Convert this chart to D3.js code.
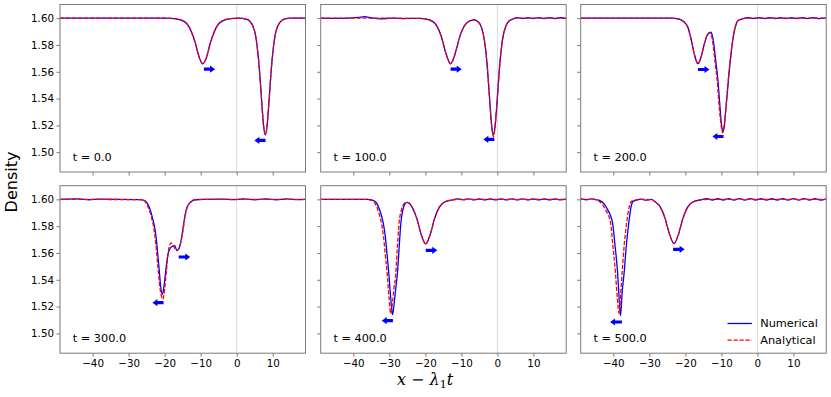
<!DOCTYPE html>
<html>
<head>
<meta charset="utf-8">
<script src="https://cdn.jsdelivr.net/npm/d3@7"></script>
<style>
  body { margin: 0; background: #fff; }
  text { font-family: "DejaVu Sans", sans-serif; }
</style>
</head>
<body>
<div id="chart"></div>
<script>
// snapshot times, one panel each
var times = [0, 100, 200, 300, 400, 500];

var xTicks = [-40, -30, -20, -10, 0, 10];
var yTicks = [1.50, 1.52, 1.54, 1.56, 1.58, 1.60];

// density profiles, [x - lambda1 t, density]
var numT0 = [[-49.1,1.6],[-20,1.6],[-17.2,1.5997],[-14.6,1.5976],[-13.3,1.5939],[-12.0,1.5857],[-11.3,1.5797],[-10.7,1.5733],[-9.4,1.566],[-8.1,1.5733],[-7.5,1.5797],[-6.8,1.5857],[-5.5,1.5939],[-4.2,1.5976],[-1.6,1.5997],[0.5,1.6],[2.85,1.5991],[4.55,1.5938],[5.4,1.5843],[6.25,1.5635],[6.68,1.548],[7.1,1.5316],[7.53,1.5182],[7.95,1.513],[8.38,1.5182],[8.8,1.5316],[9.23,1.548],[9.65,1.5635],[10.5,1.5843],[11.35,1.5938],[13.05,1.5991],[15,1.6],[19.2,1.6]];
var anaT0 = [[-49.1,1.6],[-20,1.6],[-17.2,1.5997],[-14.6,1.5976],[-13.3,1.5939],[-12.0,1.5857],[-11.3,1.5797],[-10.7,1.5733],[-9.4,1.566],[-8.1,1.5733],[-7.5,1.5797],[-6.8,1.5857],[-5.5,1.5939],[-4.2,1.5976],[-1.6,1.5997],[0.5,1.6],[2.85,1.5991],[4.55,1.5938],[5.4,1.5843],[6.25,1.5635],[6.68,1.548],[7.1,1.5316],[7.53,1.5182],[7.95,1.513],[8.38,1.5182],[8.8,1.5316],[9.23,1.548],[9.65,1.5635],[10.5,1.5843],[11.35,1.5938],[13.05,1.5991],[15,1.6],[19.2,1.6]];

var numT100 = [[-49.1,1.6],[-45,1.5998],[-41,1.6001],[-38.5,1.6006],[-36.8,1.6011],[-35,1.6003],[-32.6,1.5995],[-29,1.6],[-26,1.5997],[-22,1.5999],[-20.5,1.5997],[-18,1.5976],[-16.75,1.5939],[-15.5,1.5857],[-14.9,1.5797],[-14.25,1.5733],[-13,1.566],[-11.75,1.5733],[-11.1,1.5797],[-10.5,1.5857],[-9.25,1.5939],[-8,1.5975],[-6.5,1.5987],[-5.35,1.5974],[-4.5,1.5937],[-3.65,1.5843],[-2.8,1.5635],[-2.38,1.548],[-1.95,1.5316],[-1.53,1.5185],[-1.1,1.513],[-0.68,1.5185],[-0.25,1.5316],[0.18,1.548],[0.6,1.5635],[1.45,1.5843],[2.3,1.5938],[3.15,1.5977],[4.0,1.5991],[5.5,1.6004],[7,1.5997],[8.5,1.6004],[10,1.5997],[11.5,1.6004],[13,1.5997],[14.5,1.6003],[16,1.5997],[17.5,1.6003],[19.2,1.5998]];
var anaT100 = [[-49.1,1.6],[-22,1.5999],[-20.5,1.5997],[-18,1.5976],[-16.75,1.5939],[-15.5,1.5857],[-14.9,1.5797],[-14.25,1.5733],[-13,1.566],[-11.75,1.5733],[-11.1,1.5797],[-10.5,1.5857],[-9.25,1.5939],[-8,1.5975],[-6.5,1.5987],[-5.35,1.5974],[-4.5,1.5937],[-3.65,1.5843],[-2.8,1.5635],[-2.38,1.548],[-1.95,1.5316],[-1.53,1.518],[-1.1,1.5115],[-0.68,1.518],[-0.25,1.5316],[0.18,1.548],[0.6,1.5635],[1.45,1.5843],[2.3,1.5938],[3.15,1.5977],[4.0,1.5991],[6,1.6],[19.2,1.6]];

var numT200 = [[-49.1,1.6],[-24,1.6],[-22,1.5995],[-20.5,1.5975],[-19.2,1.5925],[-18.3,1.583],[-17.3,1.571],[-16.5,1.566],[-15.7,1.5705],[-14.8,1.58],[-13.9,1.5875],[-13.0,1.5895],[-12.4,1.5858],[-12.0,1.5785],[-11.5,1.5665],[-11.0,1.555],[-10.4,1.5345],[-9.9,1.519],[-9.6,1.5152],[-9.2,1.5195],[-8.8,1.5305],[-7.95,1.5566],[-7.1,1.578],[-6.2,1.5925],[-5.4,1.598],[-4,1.5997],[-2.5,1.6003],[-1,1.5997],[0.5,1.6003],[2,1.5997],[3.5,1.6003],[5,1.5997],[6.5,1.6003],[8,1.5997],[9.5,1.6003],[11,1.5997],[12.5,1.6003],[14,1.5997],[15.5,1.6003],[17,1.5997],[19.2,1.6002]];
var anaT200 = [[-49.1,1.6],[-24,1.6],[-22,1.5995],[-20.5,1.5975],[-19.2,1.5925],[-18.3,1.583],[-17.3,1.571],[-16.5,1.566],[-15.7,1.5705],[-14.8,1.58],[-13.9,1.5875],[-13.1,1.589],[-12.6,1.5855],[-12.2,1.578],[-11.7,1.566],[-11.2,1.5545],[-10.6,1.534],[-10.0,1.5185],[-9.65,1.5145],[-9.25,1.519],[-8.85,1.530],[-8.0,1.5566],[-7.15,1.578],[-6.25,1.5925],[-5.4,1.598],[-4,1.5997],[-2,1.6],[19.2,1.6]];

var numT300 = [[-49.1,1.6],[-44,1.6003],[-41,1.5997],[-38,1.6002],[-27,1.5998],[-25.5,1.599],[-24.5,1.5955],[-23.8,1.5905],[-23.25,1.5848],[-22.7,1.578],[-22.3,1.57],[-21.6,1.55],[-21.1,1.535],[-20.65,1.529],[-20.2,1.535],[-19.55,1.55],[-18.9,1.561],[-18.0,1.5648],[-17.2,1.5655],[-16.6,1.5617],[-15.9,1.564],[-15.4,1.57],[-14.7,1.582],[-14.0,1.5923],[-13.0,1.5975],[-11.4,1.5997],[-9,1.6],[-4,1.6002],[-1,1.5998],[2,1.6003],[5,1.5997],[8,1.6003],[11,1.5997],[14,1.6003],[17,1.5998],[19.2,1.6]];
var anaT300 = [[-49.1,1.6],[-27,1.5998],[-25.7,1.599],[-24.8,1.5955],[-24.1,1.5905],[-23.5,1.5848],[-22.9,1.577],[-22.5,1.568],[-21.9,1.55],[-21.2,1.532],[-20.5,1.5255],[-20.0,1.533],[-19.5,1.547],[-19.0,1.5605],[-18.5,1.5665],[-18.15,1.5675],[-17.6,1.5655],[-16.9,1.5625],[-16.3,1.5625],[-15.6,1.567],[-15.0,1.575],[-14.3,1.588],[-13.3,1.5965],[-11.6,1.5997],[-9,1.6],[19.2,1.6]];

var numT400 = [[-49.1,1.6],[-36,1.6],[-34.5,1.5993],[-33.6,1.5975],[-32.8,1.593],[-32.2,1.588],[-31.7,1.5824],[-31.1,1.572],[-30.6,1.558],[-30.15,1.545],[-29.6,1.526],[-29.1,1.514],[-28.6,1.524],[-28.2,1.534],[-27.75,1.545],[-27.3,1.563],[-26.8,1.5824],[-26.3,1.5915],[-25.7,1.5965],[-25.1,1.5978],[-24.4,1.597],[-23.65,1.594],[-22.4,1.586],[-21.15,1.5738],[-19.9,1.5667],[-18.65,1.5738],[-17.4,1.586],[-16.15,1.594],[-14.9,1.5977],[-12.4,1.5997],[-11,1.6003],[-9.5,1.5996],[-8,1.6004],[-6.5,1.5996],[-5,1.6004],[-3.5,1.5996],[-2,1.6004],[-0.5,1.5996],[1,1.6004],[2.5,1.5996],[4,1.6004],[5.5,1.5996],[7,1.6004],[8.5,1.5996],[10,1.6004],[11.5,1.5996],[13,1.6004],[14.5,1.5996],[16,1.6004],[17.5,1.5996],[19.2,1.6003]];
var anaT400 = [[-49.1,1.6],[-36.5,1.6],[-35,1.5993],[-34.1,1.5975],[-33.3,1.593],[-32.7,1.588],[-32.2,1.5824],[-31.6,1.572],[-31.1,1.558],[-30.6,1.545],[-30.1,1.527],[-29.6,1.5147],[-29.1,1.524],[-28.7,1.534],[-28.2,1.545],[-27.8,1.563],[-27.3,1.5824],[-26.7,1.5915],[-26.0,1.5965],[-25.2,1.5978],[-24.4,1.597],[-23.65,1.594],[-22.4,1.586],[-21.15,1.5738],[-19.9,1.5667],[-18.65,1.5738],[-17.4,1.586],[-16.15,1.594],[-14.9,1.5977],[-12.4,1.5997],[-10,1.6],[19.2,1.6]];

var numT500 = [[-49.1,1.6003],[-47.5,1.5997],[-46,1.6003],[-44.8,1.5997],[-43.7,1.599],[-42.5,1.5965],[-41.5,1.592],[-40.8,1.588],[-40.2,1.5824],[-39.5,1.565],[-38.8,1.545],[-38.4,1.527],[-38.0,1.5132],[-37.5,1.532],[-37.0,1.545],[-36.4,1.565],[-35.7,1.5824],[-35.1,1.594],[-34.5,1.5985],[-33.5,1.5995],[-32.3,1.6002],[-31,1.5994],[-29.5,1.6],[-28.15,1.5977],[-26.9,1.594],[-25.65,1.586],[-24.4,1.574],[-23.15,1.567],[-21.9,1.574],[-20.65,1.586],[-19.4,1.594],[-18.15,1.5977],[-15.65,1.5997],[-14,1.6005],[-12.5,1.5995],[-11,1.6005],[-9.5,1.5995],[-8,1.6005],[-6.5,1.5995],[-5,1.6005],[-3.5,1.5995],[-2,1.6005],[-0.5,1.5995],[1,1.6005],[2.5,1.5995],[4,1.6005],[5.5,1.5995],[7,1.6005],[8.5,1.5995],[10,1.6005],[11.5,1.5995],[13,1.6005],[14.5,1.5995],[16,1.6005],[17.5,1.5995],[19.2,1.6004]];
var anaT500 = [[-49.1,1.6],[-45,1.6],[-44.2,1.599],[-43.1,1.5965],[-42.1,1.592],[-41.35,1.588],[-40.75,1.5824],[-40.1,1.565],[-39.4,1.545],[-38.9,1.527],[-38.4,1.5147],[-37.95,1.53],[-37.55,1.545],[-37.0,1.565],[-36.3,1.5824],[-35.6,1.594],[-35.0,1.5985],[-34,1.5995],[-32.3,1.6],[-29.5,1.5998],[-28.15,1.5977],[-26.9,1.594],[-25.65,1.586],[-24.4,1.574],[-23.15,1.567],[-21.9,1.574],[-20.65,1.586],[-19.4,1.594],[-18.15,1.5977],[-15.65,1.5997],[-13,1.6],[19.2,1.6]];

// propagation arrows, [x tail, x head, density]
var arrowsT0 = [[-9.1, -6.0, 1.5619], [8.0, 4.9, 1.5088]];
var arrowsT100 = [[-13.0, -9.9, 1.5619], [-0.84, -3.9, 1.5095]];
var arrowsT200 = [[-16.5, -13.3, 1.5617], [-9.4, -12.5, 1.5117]];
var arrowsT300 = [[-16.1, -12.9, 1.557], [-20.3, -23.4, 1.5229]];
var arrowsT400 = [[-19.9, -16.7, 1.562], [-29.0, -32.1, 1.5095]];
var arrowsT500 = [[-23.4, -20.2, 1.5627], [-37.6, -40.9, 1.5085]];

var numerical = [numT0, numT100, numT200, numT300, numT400, numT500];
var analytical = [anaT0, anaT100, anaT200, anaT300, anaT400, anaT500];
var arrows = [arrowsT0, arrowsT100, arrowsT200, arrowsT300, arrowsT400, arrowsT500];

var W = 831, H = 397;
var colLeft = [60, 320.7, 580.7], rowTop = [4.5, 185.7];
var pw = 245.5, ph = 167.5;
var frameColor = "#7a7a7a";

var svg = d3.select("#chart").append("svg")
    .attr("width", W)
    .attr("height", H);

var x = d3.scaleLinear().domain([-49.05, 19.1]).range([0, pw]);
var y = d3.scaleLinear().domain([1.4852, 1.6102]).range([ph, 0]);

var line = d3.line()
    .x(d => x(d[0]))
    .y(d => y(d[1]))
    .curve(d3.curveMonotoneX);

svg.append("defs").append("clipPath").attr("id", "clip")
    .append("rect").attr("width", pw).attr("height", ph);

times.forEach(function(t, i) {
    var col = i % 3, row = Math.floor(i / 3);
    var g = svg.append("g")
        .attr("transform", "translate(" + colLeft[col] + "," + rowTop[row] + ")");

    // zero line
    g.append("line")
        .attr("x1", x(0)).attr("x2", x(0))
        .attr("y1", 0).attr("y2", ph)
        .attr("stroke", "#cfcfcf").attr("stroke-width", 0.8);

    var plot = g.append("g").attr("clip-path", "url(#clip)");
    plot.append("path")
        .attr("d", line(numerical[i]))
        .attr("fill", "none").attr("stroke", "#0000ff").attr("stroke-width", 1.3);
    plot.append("path")
        .attr("d", line(analytical[i]))
        .attr("fill", "none").attr("stroke", "#ff0000").attr("stroke-width", 1.3)
        .attr("stroke-dasharray", "4.2,1.8");

    // arrows
    arrows[i].forEach(function(a) {
        var x0 = x(a[0]), x1 = x(a[1]), yy = y(a[2]);
        var d = x1 > x0 ? 1 : -1, hl = 5, sh = 1.6, hh = 3.6;
        var pts = [[x0, yy - sh], [x1 - d * hl, yy - sh], [x1 - d * hl, yy - hh], [x1, yy],
                   [x1 - d * hl, yy + hh], [x1 - d * hl, yy + sh], [x0, yy + sh]];
        g.append("path")
            .attr("d", "M" + pts.join("L") + "Z")
            .attr("fill", "#0000ff");
    });

    // axes
    var ax = g.append("g")
        .attr("transform", "translate(0," + ph + ")")
        .call(d3.axisBottom(x).tickValues(xTicks).tickSize(3.5).tickPadding(2.5)
            .tickFormat(row === 1 ? d3.format("d") : ""));
    var ay = g.append("g")
        .call(d3.axisLeft(y).tickValues(yTicks).tickSize(3.5).tickPadding(2.5)
            .tickFormat(col === 0 ? d3.format(".2f") : ""));
    [ax, ay].forEach(function(a) {
        a.select(".domain").remove();
        a.selectAll(".tick line").attr("stroke", frameColor);
        a.selectAll(".tick text").attr("fill", "#000")
            .style("font-family", "'DejaVu Sans', sans-serif").style("font-size", "10.3px");
    });

    g.append("rect")
        .attr("width", pw).attr("height", ph)
        .attr("fill", "none").attr("stroke", frameColor).attr("stroke-width", 1);

    g.append("text")
        .attr("x", 12.7).attr("y", ph - 11)
        .style("font-size", "11.3px")
        .text("t = " + t.toFixed(1));

    if (i === 5) {
        var lg = g.append("g");
        lg.append("line").attr("x1", pw - 98.7).attr("x2", pw - 74.3)
            .attr("y1", ph - 29.7).attr("y2", ph - 29.7)
            .attr("stroke", "#0000ff").attr("stroke-width", 1.3);
        lg.append("line").attr("x1", pw - 98.7).attr("x2", pw - 74.3)
            .attr("y1", ph - 13).attr("y2", ph - 13)
            .attr("stroke", "#ff0000").attr("stroke-width", 1.3)
            .attr("stroke-dasharray", "4.2,1.8");
        lg.append("text").attr("x", pw - 66).attr("y", ph - 25.7)
            .style("font-size", "11.3px").text("Numerical");
        lg.append("text").attr("x", pw - 66).attr("y", ph - 9)
            .style("font-size", "11.3px").text("Analytical");
    }
});

// shared labels
svg.append("text")
    .attr("transform", "translate(17,182) rotate(-90)")
    .attr("text-anchor", "middle")
    .style("font-size", "16px")
    .text("Density");

var xl = svg.append("text")
    .attr("x", 425).attr("y", 385)
    .attr("text-anchor", "middle")
    .style("font-family", "'DejaVu Serif', serif")
    .style("font-size", "16px");
xl.append("tspan").style("font-style", "italic").text("x");
xl.append("tspan").text(" \u2212 ");
xl.append("tspan").style("font-style", "italic").text("\u03bb");
xl.append("tspan").attr("dy", 3).style("font-size", "11px").text("1");
xl.append("tspan").attr("dy", -3).style("font-style", "italic").text("t");
</script>
</body>
</html>
